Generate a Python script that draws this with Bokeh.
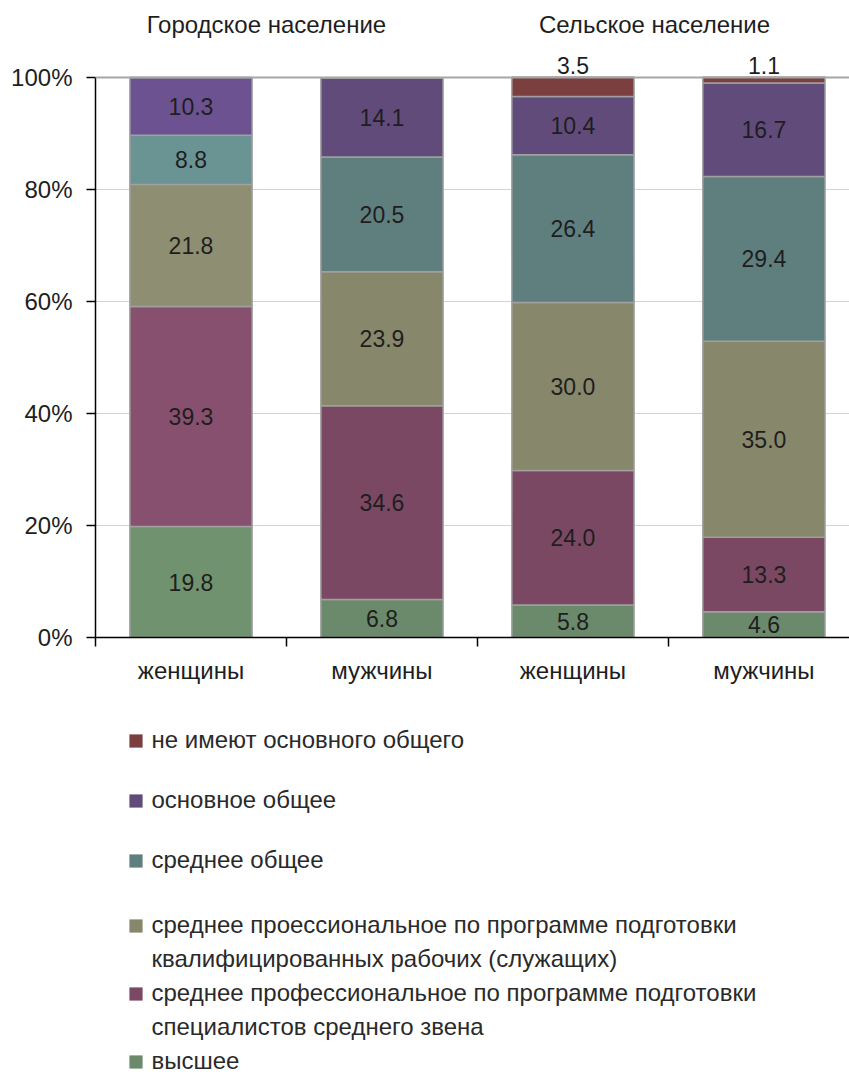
import numpy as np
from bokeh.plotting import figure
from bokeh.layouts import column
from bokeh.models import (ColumnDataSource, FixedTicker, PrintfTickFormatter, Legend,
                          LegendItem, Span, Range1d)
from bokeh.core.properties import value
from bokeh.embed import file_html
from bokeh.resources import INLINE

# ---------------- data ----------------
categories = ["женщины", "мужчины", "женщины", "мужчины"]
groups = ["Городское население", "Сельское население"]

vysshee = [19.8, 6.8, 5.8, 4.6]          # высшее
spo_spec = [39.3, 34.6, 24.0, 13.3]      # среднее проф. (специалисты среднего звена)
spo_rab = [21.8, 23.9, 30.0, 35.0]       # среднее проф. (квалифицированные рабочие)
srednee = [8.8, 20.5, 26.4, 29.4]        # среднее общее
osnovnoe = [10.3, 14.1, 10.4, 16.7]      # основное общее
ne_imeyut = [0.0, 0.0, 3.5, 1.1]         # не имеют основного общего

y_ticks = [0, 20, 40, 60, 80, 100]

legend_top = ["не имеют основного общего", "основное общее", "среднее общее"]
legend_bottom = ["среднее проессиональное по программе подготовки",
                 "квалифицированных рабочих (служащих)",
                 "среднее профессиональное по программе подготовки",
                 "специалистов среднего звена",
                 "высшее"]

# ---------------- style ----------------
FONT = "Liberation Sans"
TXT = "#1e1e1e"
colors = ["#6B8A6B", "#7B4863", "#87876B", "#5F7F7E", "#614B7B", "#7B3F3F"]
colors_first = ["#70926F", "#88506F", "#8E8E72", "#6A9494", "#6C5290", "#7B3F3F"]

series = [vysshee, spo_spec, spo_rab, srednee, osnovnoe, ne_imeyut]

W = 849
H1, H2 = 700, 379
x = np.arange(len(categories)) + 0.5

p = figure(width=W, height=H1, output_backend="svg", toolbar_location=None,
           x_range=Range1d(0, 3.948), y_range=Range1d(0, 113.75),
           min_border_left=95, min_border_right=0, min_border_top=0,
           min_border_bottom=H1 - 637)
p.outline_line_color = None
p.background_fill_color = "white"
p.border_fill_color = "white"
p.xgrid.visible = False
p.ygrid.grid_line_color = "#d4d4d4"
p.ygrid.grid_line_width = 1

p.add_layout(Span(location=100, dimension="width", line_color="#a6a6a6", line_width=2))

bottom = np.zeros(len(categories))
sources = []
for i, s in enumerate(series):
    vals = np.array(s, dtype=float)
    top = bottom + vals
    fc = [colors_first[i]] + [colors[i]] * (len(categories) - 1)
    src = ColumnDataSource(dict(x=x, bottom=bottom.copy(), top=top, color=fc))
    sources.append(src)
    p.vbar(x="x", bottom="bottom", top="top", width=0.64, source=src,
           fill_color="color", line_color="#a0a0a0", line_width=1.5)
    lab_x, lab_y, lab_t = [], [], []
    for j in range(len(categories)):
        if vals[j] <= 0:
            continue
        lab_x.append(x[j])
        if i == len(series) - 1:
            lab_y.append(102.2)
        else:
            lab_y.append((bottom[j] + top[j]) / 2)
        lab_t.append(f"{vals[j]:.1f}")
    p.text(x=lab_x, y=lab_y, text=lab_t, text_align="center", text_baseline="middle",
           text_font=value(FONT), text_font_size="23px", text_color=TXT)
    bottom = top

# group headers
p.text(x=[0.895, 2.927], y=[109.5, 109.5], text=groups, text_align="center",
       text_baseline="middle", text_font=value(FONT), text_font_size="24px",
       text_color=TXT)

# y axis
ya = p.yaxis[0]
ya.ticker = FixedTicker(ticks=y_ticks)
ya.formatter = PrintfTickFormatter(format="%d%%")
ya.bounds = (0, 100)
ya.axis_line_color = "black"
ya.axis_line_width = 1.5
ya.major_tick_out = 9
ya.major_tick_in = 0
ya.major_tick_line_width = 1.5
ya.minor_tick_line_color = None
ya.major_label_standoff = 14
ya.major_label_text_font = FONT
ya.major_label_text_font_size = "24px"
ya.major_label_text_color = TXT

# x axis
xa = p.xaxis[0]
xa.ticker = FixedTicker(ticks=list(x), minor_ticks=[0, 1, 2, 3, 4])
xa.major_label_overrides = {float(v): c for v, c in zip(x, categories)}
xa.axis_line_color = "black"
xa.axis_line_width = 1.5
xa.major_tick_out = 0
xa.major_tick_in = 0
xa.minor_tick_out = 9
xa.minor_tick_in = 0
xa.minor_tick_line_color = "black"
xa.minor_tick_line_width = 1.5
xa.major_label_standoff = 10
xa.major_label_text_font = FONT
xa.major_label_text_font_size = "24px"
xa.major_label_text_color = TXT

# ---------------- legend figure ----------------
q = figure(width=W, height=H2, output_backend="svg", toolbar_location=None,
           x_range=Range1d(0, 4), y_range=Range1d(0, 1),
           min_border_left=0, min_border_right=0, min_border_top=0, min_border_bottom=0)
q.axis.visible = False
q.grid.visible = False
q.outline_line_color = None
q.background_fill_color = "white"
q.border_fill_color = "white"

# legend proxies: zero-size markers on the same data (invisible), used only for swatches
proxies = [q.scatter(x="x", y="bottom", source=sources[i], marker="square", size=0,
                     fill_color=colors[i], line_color=None)
           for i in range(len(series))]
blank = q.scatter(x="x", y="bottom", source=sources[0], size=0,
                  fill_alpha=0, line_alpha=0)

items_a = [LegendItem(label=legend_top[0], renderers=[proxies[5]]),
           LegendItem(label=legend_top[1], renderers=[proxies[4]]),
           LegendItem(label=legend_top[2], renderers=[proxies[3]])]
items_b = [LegendItem(label=legend_bottom[0], renderers=[proxies[2]]),
           LegendItem(label=legend_bottom[1], renderers=[blank]),
           LegendItem(label=legend_bottom[2], renderers=[proxies[1]]),
           LegendItem(label=legend_bottom[3], renderers=[blank]),
           LegendItem(label=legend_bottom[4], renderers=[proxies[0]])]

def mk_legend(items, spacing, loc):
    return Legend(items=items, location=loc, orientation="vertical",
                  label_text_font=FONT, label_text_font_size="24px",
                  label_text_color="#2a2a2a", label_height=33, label_standoff=0,
                  glyph_width=33, glyph_height=33, spacing=spacing,
                  padding=0, margin=0, border_line_color=None,
                  background_fill_alpha=0)

q.add_layout(mk_legend(items_a, 27, (23.5, 202.5)))
q.add_layout(mk_legend(items_b, 1, (23.5, 1.5)))

layout = column(p, q, spacing=0)
open("out.html", "w").write(file_html(layout, INLINE))
